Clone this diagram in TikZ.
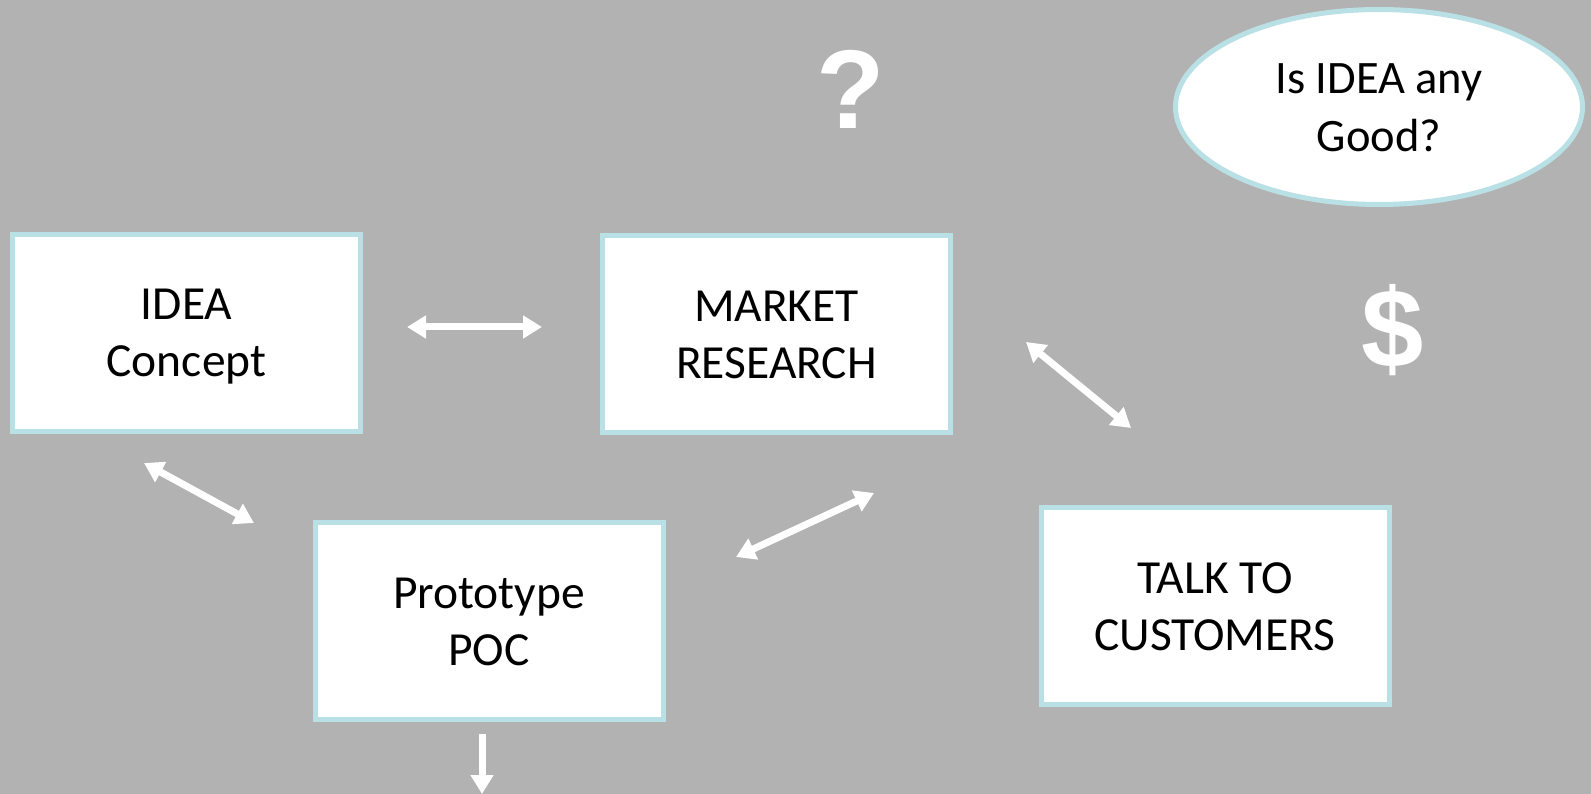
\documentclass[tikz,border=0pt]{standalone}
\usepackage{fontspec}
\setmainfont{Carlito}
\newfontfamily\symfont{Liberation Sans}
\usetikzlibrary{arrows.meta,shapes.geometric}
\definecolor{bggray}{RGB}{178,178,178}
\definecolor{edgeblue}{RGB}{185,224,228}
\newcommand{\firststrut}{\rule{0pt}{40pt}}
\newcommand{\laststrut}{\rule[-9pt]{0pt}{9pt}}
\tikzset{
  box/.style={draw=edgeblue, line width=5pt, fill=white, rectangle,
    minimum width=348pt, minimum height=197pt, inner sep=0pt, align=center,
    font=\fontsize{47.5}{57}\selectfont, text=black},
  bubble/.style={draw=edgeblue, line width=5pt, fill=white, ellipse,
    minimum width=407pt, minimum height=195pt, inner sep=0pt, align=center,
    font=\fontsize{46.5}{58}\selectfont, text=black},
  bigsym/.style={text=white, inner sep=0pt, font=\symfont\bfseries\fontsize{112}{112}\selectfont},
  link/.style={white, line width=7pt, {Triangle[width=22pt,length=19pt]}-{Triangle[width=22pt,length=19pt]}},
  onelink/.style={white, line width=7pt, -{Triangle[width=22pt,length=19pt]}}
}
\begin{document}
\begin{tikzpicture}[x=1pt,y=-1pt]
\fill[bggray] (0,0) rectangle (1591,794);
\useasboundingbox (0,0) rectangle (1591,794);

\node[box] (idea) at (186.5,333) {\firststrut IDEA\\Concept\laststrut};
\node[box] (market) at (776.5,334) {\firststrut MARKET\\RESEARCH\laststrut};
\node[box] (proto) at (489,621) {\firststrut Prototype\\POC\laststrut};
\node[box] (talk) at (1215,606) {\firststrut TALK TO\\CUSTOMERS\laststrut};
\node[bubble] (good) at (1379,107) {\firststrut Is IDEA any\\Good?\laststrut};

\node[bigsym] (qmark) at (851,89) {?};
\node[bigsym] (dollar) at (1392.5,330) {\$};

\coordinate (im1) at (407,327);
\coordinate (im2) at (542,327);
\coordinate (ip1) at (144,463);
\coordinate (ip2) at (254,523);
\coordinate (pm1) at (736,557);
\coordinate (pm2) at (874,493);
\coordinate (mt1) at (1026,342);
\coordinate (mt2) at (1131,428);
\coordinate (dn1) at (482,734);
\coordinate (dn2) at (482,794);

\draw[link] (im1) -- (im2);
\draw[link] (ip1) -- (ip2);
\draw[link] (pm1) -- (pm2);
\draw[link] (mt1) -- (mt2);
\draw[onelink] (dn1) -- (dn2);
\end{tikzpicture}
\end{document}
